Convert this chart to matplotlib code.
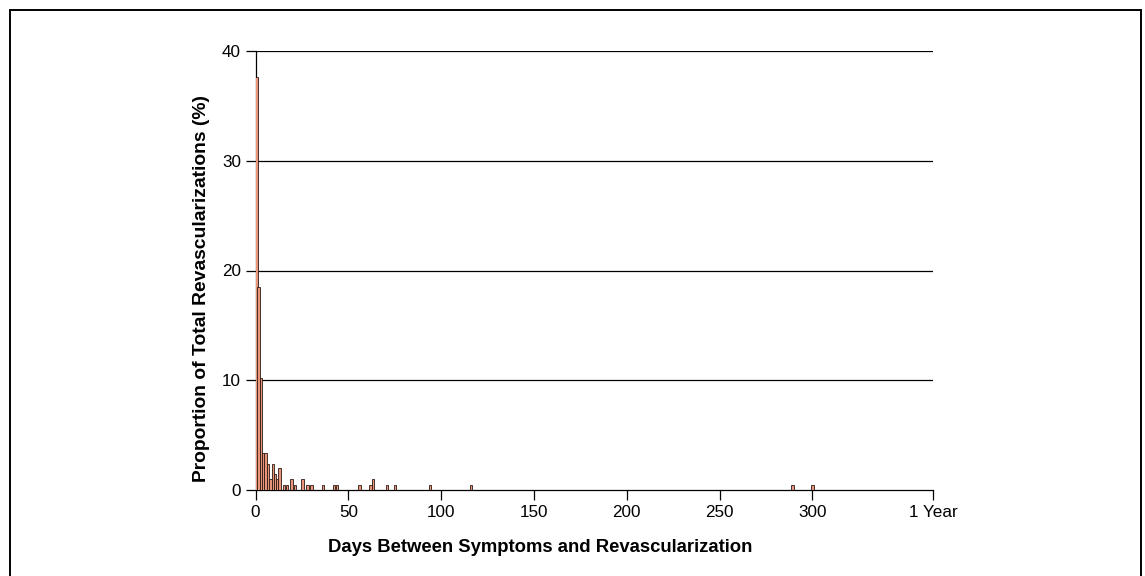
import matplotlib
matplotlib.use("Agg")
import matplotlib.pyplot as plt
from matplotlib.patches import Rectangle

plt.rcParams['font.family'] = ['Liberation Sans', 'DejaVu Sans']

# bar centres (days) and proportion of all revascularizations (%)
days = [0.6, 1.7, 2.9, 4.1, 5.3, 6.8, 8.1, 9.4, 10.5, 11.6, 12.9,
        15.4, 17.1, 19.3, 21.3, 25.3, 28.1, 30.2, 36.3, 42.2, 43.8,
        56.1, 62.0, 63.4, 71.0, 75.1, 94.0, 116.0, 289.2, 300.0]
pct = [37.6, 18.5, 10.2, 3.4, 3.4, 2.4, 1.0, 2.4, 1.5, 1.0, 2.0,
       0.5, 0.5, 1.0, 0.5, 1.0, 0.5, 0.5, 0.5, 0.5, 0.5,
       0.5, 0.5, 1.0, 0.5, 0.5, 0.5, 0.5, 0.5, 0.5]

x_ticks = [0, 50, 100, 150, 200, 250, 300, 365]
x_tick_labels = ["0", "50", "100", "150", "200", "250", "300", "1 Year"]
y_ticks = [0, 10, 20, 30, 40]

fig = plt.figure(figsize=(11.45, 5.76), dpi=100)
ax = fig.add_axes([255.5 / 1145, 1 - 490 / 576, (933 - 255.5) / 1145, (490 - 51) / 576])

for y in y_ticks[1:]:
    ax.axhline(y, color="black", linewidth=0.9, zorder=1)

ax.bar(days, pct, width=1.3, color="#E8957A", edgecolor="#2a1a14",
       linewidth=0.6, zorder=3)

ax.set_xlim(0, 365)
ax.set_ylim(0, 40)
ax.set_xticks(x_ticks)
ax.set_xticklabels(x_tick_labels)
ax.set_yticks(y_ticks)
ax.tick_params(axis="both", direction="out", length=7, width=0.9,
               labelsize=12.3, color="black")
ax.tick_params(axis="y", pad=3.5)
ax.tick_params(axis="x", pad=3.5)

for s in ["top", "right"]:
    ax.spines[s].set_visible(False)
for s in ["left", "bottom"]:
    ax.spines[s].set_linewidth(0.9)

ax.set_xlabel("Days Between Symptoms and Revascularization",
              fontsize=13.3, fontweight="bold")
ax.xaxis.set_label_coords(0.42, -0.13)
ax.xaxis.label.set_va("center")
ax.set_ylabel("Proportion of Total Revascularizations (%)",
              fontsize=13.9, fontweight="bold")
ax.yaxis.set_label_coords(-0.08, 0.46)
ax.yaxis.label.set_va("center")

# frame around the figure (bottom edge runs off the image)
fig.patches.append(Rectangle((10 / 1145, -0.1), (1141 - 10) / 1145, 1.1 - 10 / 576,
                             transform=fig.transFigure, fill=False,
                             edgecolor="black", linewidth=1.4))

fig.savefig("out.png", dpi=100)
